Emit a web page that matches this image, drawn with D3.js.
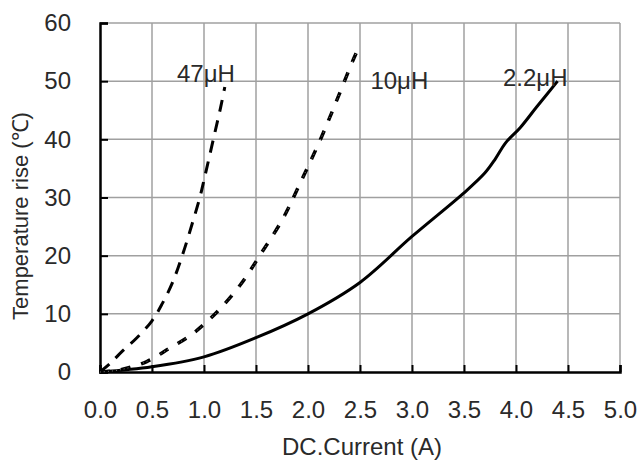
<!DOCTYPE html>
<html>
<head>
<meta charset="utf-8">
<style>
body { margin: 0; background: #fff; }
svg { font-family: "Liberation Sans", Arial, sans-serif; }
.tick text { font-size: 24px; fill: #2a2a2a; }
</style>
</head>
<body>
<script src="https://cdn.jsdelivr.net/npm/d3@7"></script>
<script>
// tick values
var xTicks = [0, 0.5, 1, 1.5, 2, 2.5, 3, 3.5, 4, 4.5, 5];
var yTicks = [0, 10, 20, 30, 40, 50, 60];

// curves: [current A, temperature rise C]
var l47 = [[0,0],[0.1,1.5],[0.21,3.5],[0.35,5.8],[0.5,8.8],[0.6,11.8],[0.7,15.5],[0.8,20.5],[0.9,26.3],[0.96,30],[1.0,33],[1.1,40.8],[1.16,45.5],[1.2,49]];
var l10 = [[0,0],[0.2,0.4],[0.45,1.8],[0.67,4.1],[0.87,6.3],[1.0,8.2],[1.14,10.6],[1.35,15],[1.55,20.4],[1.76,26.4],[1.91,31.9],[2.13,40.4],[2.29,47.3],[2.44,53.9],[2.48,55.5]];
var l22 = [[0,0],[0.5,0.9],[1.0,2.6],[1.5,5.9],[2.0,10],[2.5,15.4],[3.0,23.3],[3.5,30.8],[3.7,34.2],[3.8,36.6],[3.9,39.4],[4.04,42],[4.2,45.6],[4.4,50]];
var labels = ["47μH", "10μH", "2.2μH"];

var margin = {top: 23, right: 19, bottom: 88, left: 100},
    width = 639 - margin.left - margin.right,
    height = 460 - margin.top - margin.bottom;

var x = d3.scaleLinear().domain([0, 5]).range([0, width]);
var y = d3.scaleLinear().domain([0, 60]).range([height, 0]);

var svg = d3.select("body").append("svg")
    .attr("width", 639)
    .attr("height", 460)
  .append("g")
    .attr("transform", "translate(" + margin.left + "," + margin.top + ")");

// grid
svg.append("g").selectAll("line")
    .data(xTicks.slice(1))
  .enter().append("line")
    .attr("x1", function(d) { return x(d); })
    .attr("x2", function(d) { return x(d); })
    .attr("y1", 0).attr("y2", height)
    .style("stroke", "#a0a0a0").style("stroke-width", 1.5);

svg.append("g").selectAll("line")
    .data(yTicks.slice(1))
  .enter().append("line")
    .attr("x1", 0).attr("x2", width)
    .attr("y1", function(d) { return y(d); })
    .attr("y2", function(d) { return y(d); })
    .style("stroke", "#a0a0a0").style("stroke-width", 1.5);

// axes
var xAxis = d3.axisBottom(x).tickValues(xTicks).tickSize(-7).tickPadding(29)
    .tickFormat(d3.format(".1f"));
var yAxis = d3.axisLeft(y).tickValues(yTicks).tickSize(-8).tickPadding(29)
    .tickFormat(d3.format("d"));

svg.append("g")
    .attr("transform", "translate(0," + height + ")")
    .call(xAxis)
    .call(function(g) {
      g.select(".domain").attr("stroke", "#000").attr("stroke-width", 2.5);
      g.selectAll(".tick line").attr("stroke", "#000").attr("stroke-width", 2);
    });

svg.append("g")
    .call(yAxis)
    .call(function(g) {
      g.select(".domain").attr("stroke", "#000").attr("stroke-width", 2.5);
      g.selectAll(".tick line").attr("stroke", "#000").attr("stroke-width", 2);
    });

// axis titles
svg.append("text")
    .attr("x", 262)
    .attr("y", height + 83)
    .style("text-anchor", "middle")
    .style("font-size", "24px")
    .style("fill", "#2a2a2a")
    .text("DC.Current (A)");

svg.append("text")
    .attr("transform", "translate(" + (-72) + "," + (216 - margin.top) + ") rotate(-90)")
    .style("text-anchor", "middle")
    .style("font-size", "22px")
    .style("fill", "#2a2a2a")
    .text("Temperature rise (℃)");

// curves
var line = d3.line()
    .x(function(d) { return x(d[0]); })
    .y(function(d) { return y(d[1]); })
    .curve(d3.curveCatmullRom.alpha(0.5));

svg.append("path")
    .datum(l22)
    .attr("d", line)
    .style("fill", "none").style("stroke", "#000").style("stroke-width", 3);

svg.append("path")
    .datum(l47)
    .attr("d", line)
    .style("fill", "none").style("stroke", "#000").style("stroke-width", 3)
    .style("stroke-dasharray", "12,9");

svg.append("path")
    .datum(l10)
    .attr("d", line)
    .style("fill", "none").style("stroke", "#000").style("stroke-width", 3.5)
    .style("stroke-dasharray", "10,11");

svg.append("path")
    .datum(l10)
    .attr("d", line)
    .style("fill", "none").style("stroke", "#fff").style("stroke-width", 0.8)
    .style("stroke-opacity", 0.6)
    .style("stroke-dasharray", "1,3");

// curve labels
var labPos = [[0.74, 49.85], [2.6, 48.65], [3.875, 49.2]];
svg.selectAll(".lab")
    .data(labels)
  .enter().append("text")
    .attr("class", "lab")
    .attr("x", function(d, i) { return x(labPos[i][0]); })
    .attr("y", function(d, i) { return y(labPos[i][1]); })
    .style("font-size", "24px")
    .style("fill", "#2a2a2a")
    .text(function(d) { return d; });
</script>
</body>
</html>
